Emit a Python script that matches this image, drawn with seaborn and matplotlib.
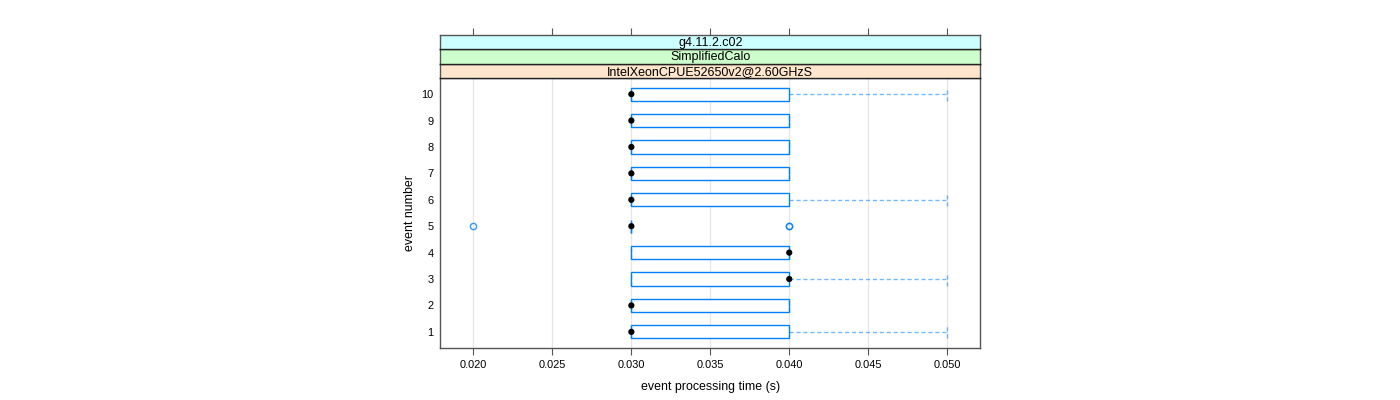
import numpy as np
import pandas as pd
import matplotlib
matplotlib.use("Agg")
import matplotlib.pyplot as plt
import seaborn as sns

# ---- data (event processing times in seconds, quantized to 0.01 s) ----
event_numbers = [1, 2, 3, 4, 5, 6, 7, 8, 9, 10]
times_event_1 = [0.03, 0.03, 0.03, 0.03, 0.04, 0.04, 0.05]
times_event_2 = [0.03, 0.03, 0.03, 0.03, 0.04, 0.04, 0.04]
times_event_3 = [0.03, 0.03, 0.03, 0.04, 0.04, 0.04, 0.04, 0.04, 0.05]
times_event_4 = [0.03, 0.03, 0.03, 0.04, 0.04, 0.04, 0.04, 0.04, 0.04]
times_event_5 = [0.02, 0.03, 0.03, 0.03, 0.03, 0.03, 0.03, 0.03, 0.04, 0.04]
times_event_6 = [0.03, 0.03, 0.03, 0.03, 0.04, 0.04, 0.05]
times_event_7 = [0.03, 0.03, 0.03, 0.03, 0.04, 0.04, 0.04]
times_event_8 = [0.03, 0.03, 0.03, 0.03, 0.04, 0.04, 0.04]
times_event_9 = [0.03, 0.03, 0.03, 0.03, 0.04, 0.04, 0.04]
times_event_10 = [0.03, 0.03, 0.03, 0.03, 0.04, 0.04, 0.05]

strip_labels = ["IntelXeonCPUE52650v2@2.60GHzS", "SimplifiedCalo", "g4.11.2.c02"]
x_ticks = [0.020, 0.025, 0.030, 0.035, 0.040, 0.045, 0.050]
x_tick_labels = ["0.020", "0.025", "0.030", "0.035", "0.040", "0.045", "0.050"]
y_ticks = [1, 2, 3, 4, 5, 6, 7, 8, 9, 10]
x_label = "event processing time (s)"
y_label = "event number"

all_times = [times_event_1, times_event_2, times_event_3, times_event_4, times_event_5,
             times_event_6, times_event_7, times_event_8, times_event_9, times_event_10]
df = pd.DataFrame({
    "event": np.concatenate([[e] * len(t) for e, t in zip(event_numbers, all_times)]),
    "time": np.concatenate(all_times),
})
medians = df.groupby("event", as_index=False)["time"].median()

# ---- styling ----
sns.set_style("white")
plt.rcParams["font.family"] = ["Liberation Sans", "DejaVu Sans"]
plt.rcParams["text.color"] = "black"
plt.rcParams["axes.labelcolor"] = "black"
plt.rcParams["xtick.color"] = "black"
plt.rcParams["ytick.color"] = "black"

BLUE = "#0080ff"
FRAME = "#555555"

fig = plt.figure(figsize=(14, 4), dpi=100)
left, right = 440.3 / 1400, 980.3 / 1400
bottom, top = 1 - 347.7 / 400, 1 - 78.3 / 400
ax = fig.add_axes([left, bottom, right - left, top - bottom])

xlim = (0.0179, 0.0521)
ylim = (0.4, 10.6)

for xt in x_ticks:
    ax.axvline(xt, color="#e6e6e6", lw=0.9, zorder=0)

sns.boxplot(
    data=df, x="time", y="event", orient="h", native_scale=True, width=0.5,
    ax=ax, whis=1.5, fill=True, color="white", linecolor=BLUE, linewidth=1.0,
    boxprops=dict(facecolor="white", edgecolor=BLUE, linewidth=1.0),
    whiskerprops=dict(color=BLUE, linestyle=(0, (3, 2)), linewidth=1.0, alpha=0.55),
    capprops=dict(color=BLUE, linestyle=(0, (3, 2)), linewidth=1.0, alpha=0.55),
    medianprops=dict(visible=False),
    flierprops=dict(marker="o", markerfacecolor="none", markeredgecolor=BLUE,
                    markersize=4.5, markeredgewidth=1.0, alpha=0.8),
    capwidths=0.5,
)
sns.scatterplot(data=medians, x="time", y="event", ax=ax, color="black",
                s=20, edgecolor="none", zorder=5)

ax.set_xlim(*xlim)
ax.set_ylim(*ylim)
ax.set_xticks(x_ticks)
ax.set_xticklabels(x_tick_labels)
ax.set_yticks(y_ticks)
ax.set_yticklabels([str(v) for v in y_ticks])
ax.tick_params(axis="x", direction="out", length=5, width=0.8, color=FRAME,
               labelcolor="black", labelsize=7.9, pad=4, bottom=True)
ax.tick_params(axis="y", length=0, labelsize=7.9, labelcolor="black", pad=5)
ax.set_xlabel(x_label, fontsize=8.9, labelpad=8, color="black")
ax.set_ylabel(y_label, fontsize=8.9, labelpad=4, color="black")
for sp in ax.spines.values():
    sp.set_color(FRAME)
    sp.set_linewidth(1.0)
ax.grid(False)

# ---- strips ----
strip_colors = ["#FFE5CC", "#CCFFCC", "#CCFFFF"]
strip_h = (78.3 - 34.7) / 400 / 3
for i, (lab, col) in enumerate(zip(strip_labels, strip_colors)):
    sax = fig.add_axes([left, top + i * strip_h, right - left, strip_h])
    sax.set_facecolor(col)
    sax.set_xlim(*xlim)
    sax.set_yticks([])
    for name, sp in sax.spines.items():
        sp.set_color("#222222" if name in ("top", "bottom") else FRAME)
        sp.set_linewidth(1.0)
    if i == len(strip_labels) - 1:
        sax.spines["top"].set_color(FRAME)
        sax.set_xticks(x_ticks)
        sax.tick_params(axis="x", top=True, bottom=False, labeltop=False,
                        labelbottom=False, direction="out", length=5, width=0.8,
                        color=FRAME)
    else:
        sax.set_xticks([])
    sax.text(0.5, 0.45, lab, transform=sax.transAxes, ha="center", va="center",
             fontsize=9, color="black")

fig.savefig("out.png", dpi=100)
